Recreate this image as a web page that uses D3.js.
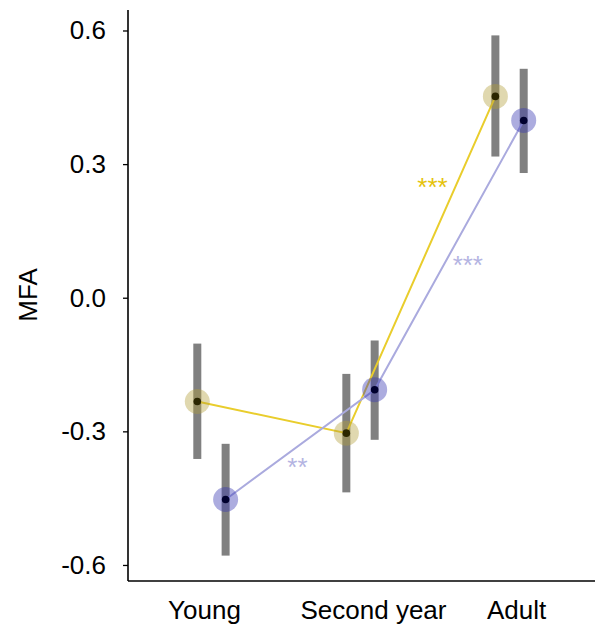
<!DOCTYPE html>
<html>
<head>
<meta charset="utf-8">
<script src="https://cdn.jsdelivr.net/npm/d3@7"></script>
<style>
  html, body { margin: 0; padding: 0; background: #fff; }
  svg { display: block; }
  text { font-family: "Liberation Sans", Arial, sans-serif; }
</style>
</head>
<body>
<svg id="chart" width="595" height="631"></svg>
<script>
// ---- data ----
const categories = ["Young", "Second year", "Adult"];
const groups = ["A", "B"];
const meanA = [-0.233, -0.304, 0.452];
const lowA  = [-0.362, -0.437, 0.317];
const highA = [-0.103, -0.171, 0.589];
const meanB = [-0.453, -0.2065, 0.398];
const lowB  = [-0.579, -0.319, 0.280];
const highB = [-0.328, -0.096, 0.514];
const yTicks = [-0.6, -0.3, 0.0, 0.3, 0.6];
const yTickLabels = ["-0.6", "-0.3", "0.0", "0.3", "0.6"];
const starLabels = ["***", "***", "**"];
const starGroups = ["A", "B", "B"];
const starValues = [0.257, 0.082, -0.372];
const starFrom = ["Second year", "Second year", "Young"];
const starFrac = [0.483, 0.72, 0.577];

// ---- layout ----
const svg = d3.select("#chart");
const mLeft = 128, mRight = 593, mTop = 10, mBottom = 581;
const x = d3.scalePoint().domain(categories).range([mLeft, mRight]).padding(0.56);
const y = d3.scaleLinear().domain([-0.636, 0.646]).range([mBottom, mTop]);
const dodge = x.step() * 0.095;
const offs = { A: -dodge, B: dodge };

const style = {
  A: { halo: "rgba(178,158,55,0.40)", dot: "#2b2600", line: "#e9cd2c", star: "#e5c30c" },
  B: { halo: "rgba(58,58,178,0.42)", dot: "#00002e", line: "#aaaade", star: "#b4b4e2" }
};

const series = {
  A: categories.map((c, i) => ({ c, m: meanA[i], lo: lowA[i], hi: highA[i] })),
  B: categories.map((c, i) => ({ c, m: meanB[i], lo: lowB[i], hi: highB[i] }))
};

// axes
const yAxis = d3.axisLeft(y).tickValues(yTicks)
  .tickFormat((d, i) => yTickLabels[i]).tickSize(5).tickPadding(17);
const gy = svg.append("g").attr("transform", `translate(${mLeft},0)`).call(yAxis);
gy.select(".domain").remove();
gy.selectAll(".tick line").attr("stroke", "#000").attr("stroke-width", 1.3);
gy.selectAll(".tick text").attr("font-size", 26).attr("fill", "#000")
  .attr("font-family", '"Liberation Sans", Arial, sans-serif');
svg.append("line").attr("x1", mLeft).attr("x2", mLeft).attr("y1", mTop).attr("y2", mBottom)
  .attr("stroke", "#000").attr("stroke-width", 1.6);
svg.append("line").attr("x1", mLeft).attr("x2", 595).attr("y1", mBottom).attr("y2", mBottom)
  .attr("stroke", "#000").attr("stroke-width", 1.6);

// x labels
const labelNudge = [-7, 13, 7];
svg.append("g").selectAll("text").data(categories).join("text")
  .attr("x", (d, i) => x(d) + labelNudge[i]).attr("y", 619)
  .attr("text-anchor", "middle").attr("font-size", 26).attr("fill", "#000")
  .text(d => d);

// y title
svg.append("text").attr("transform", "translate(37,295) rotate(-90)")
  .attr("text-anchor", "middle").attr("font-size", 26).attr("fill", "#000").text("MFA");

// error bars
groups.forEach(g => {
  svg.append("g").selectAll("rect").data(series[g]).join("rect")
    .attr("x", d => x(d.c) + offs[g] - 4).attr("width", 8)
    .attr("y", d => y(d.hi)).attr("height", d => y(d.lo) - y(d.hi))
    .attr("fill", "#808080");
});

// lines
groups.forEach(g => {
  const line = d3.line().x(d => x(d.c) + offs[g]).y(d => y(d.m));
  svg.append("path").datum(series[g]).attr("d", line)
    .attr("fill", "none").attr("stroke", style[g].line).attr("stroke-width", 2);
});

// points
groups.forEach(g => {
  const gg = svg.append("g");
  gg.selectAll("circle.halo").data(series[g]).join("circle").attr("class", "halo")
    .attr("cx", d => x(d.c) + offs[g]).attr("cy", d => y(d.m)).attr("r", 12.5)
    .attr("fill", style[g].halo);
  gg.selectAll("circle.dot").data(series[g]).join("circle").attr("class", "dot")
    .attr("cx", d => x(d.c) + offs[g]).attr("cy", d => y(d.m)).attr("r", 3.8)
    .attr("fill", style[g].dot);
});

// significance stars
svg.append("g").selectAll("text").data(starLabels).join("text")
  .attr("x", (d, i) => x(starFrom[i]) + x.step() * starFrac[i])
  .attr("y", (d, i) => y(starValues[i]) + 13)
  .attr("text-anchor", "middle").attr("font-size", 26)
  .attr("fill", (d, i) => style[starGroups[i]].star)
  .text(d => d);
</script>
</body>
</html>
